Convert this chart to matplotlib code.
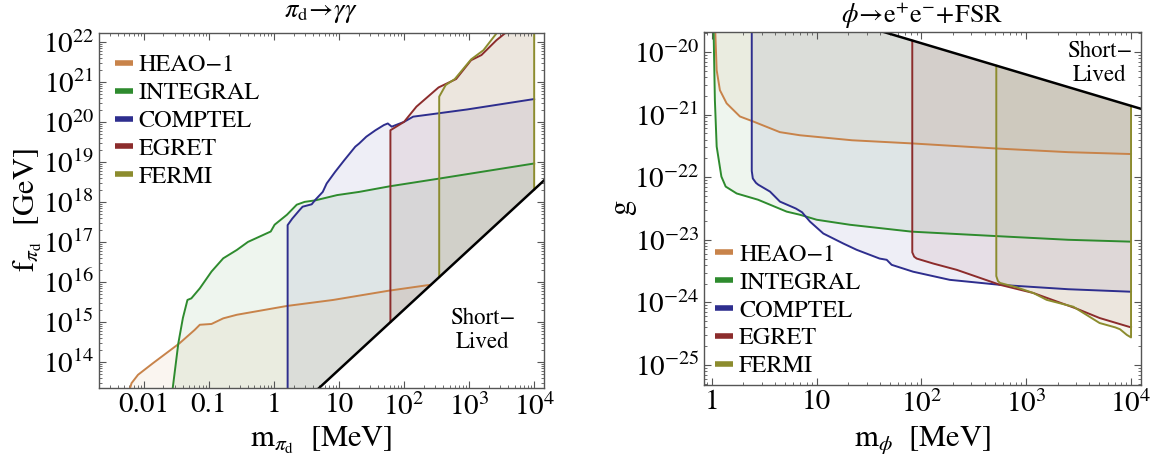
import numpy as np
import matplotlib.pyplot as plt
from matplotlib.lines import Line2D
from matplotlib.ticker import LogLocator, NullFormatter

plt.rcParams['font.family'] = 'STIXGeneral'
plt.rcParams['mathtext.fontset'] = 'stix'

names = ['HEAO\u22121', 'INTEGRAL', 'COMPTEL', 'EGRET', 'FERMI']
colors = ['#C8834A', '#2E8B2E', '#2E2E8E', '#8C2C2C', '#8C8C2E']

# ---- pi_d -> gamma gamma : log10(m / MeV) and log10(f / GeV) ----
pd_heao_m = [-2.22, -2.19, -2.09, -1.86, -1.45, -1.22, -1.14, -0.96, -0.78, -0.57, -0.22, 0.20, 0.91, 1.76, 2.41]
pd_heao_f = [13.30, 13.47, 13.68, 13.97, 14.47, 14.80, 14.93, 14.95, 15.09, 15.18, 15.28, 15.40, 15.55, 15.78, 15.93]

pd_integral_m = [-1.56, -1.47, -1.40, -1.33, -1.27, -1.14, -0.96, -0.78, -0.57, -0.40, -0.05, 0.01, 0.20,
                 0.35, 0.47, 0.64, 0.97, 1.31, 1.78, 2.53, 4.00]
pd_integral_f = [13.30, 14.47, 15.10, 15.55, 15.59, 15.84, 16.26, 16.59, 16.80, 17.00, 17.26, 17.43, 17.68,
                 17.93, 18.00, 18.04, 18.17, 18.25, 18.39, 18.58, 18.96]

pd_comptel_m = [0.21, 0.21, 0.28, 0.39, 0.44, 0.58, 0.64, 0.75, 0.81, 0.94, 1.08, 1.25, 1.31, 1.42, 1.56,
                1.69, 1.75, 1.81, 2.00, 2.14, 2.42, 2.97, 4.00]
pd_comptel_f = [13.30, 17.42, 17.58, 17.79, 17.88, 17.94, 18.06, 18.25, 18.46, 18.75, 19.04, 19.38, 19.46,
                19.63, 19.79, 19.92, 19.96, 19.88, 20.00, 20.13, 20.19, 20.31, 20.57]

pd_egret_m = [1.79, 1.79, 2.00, 2.19, 2.53, 2.80, 3.03, 3.19, 3.42, 3.58, 4.00]
pd_egret_f = [15.00, 19.79, 20.00, 20.38, 20.86, 21.07, 21.54, 21.67, 22.04, 22.25, 23.00]

pd_fermi_m = [2.54, 2.54, 2.64, 2.78, 3.03, 3.22, 3.42, 4.00, 4.00]
pd_fermi_f = [16.12, 20.63, 20.92, 21.07, 21.56, 21.79, 22.21, 23.00, 18.31]

# lifetime boundary
pd_short_m = [-3.0, 5.0]
pd_short_f = [7.81, 19.81]

# ---- phi -> e+ e- + FSR : log10(m / MeV) and log10(g) ----
phi_heao_m = [0.030, 0.045, 0.076, 0.14, 0.267, 0.394, 0.648, 0.84, 1.337, 1.906, 2.70, 3.40, 4.00]
phi_heao_g = [-19.60, -20.29, -20.61, -20.82, -21.03, -21.11, -21.28, -21.33, -21.41, -21.46, -21.54, -21.60, -21.63]

phi_integral_m = [0.015, 0.028, 0.045, 0.09, 0.131, 0.236, 0.44, 0.713, 0.84, 1.00, 1.317, 1.906, 2.70, 3.40, 4.00]
phi_integral_g = [-19.60, -20.77, -21.51, -21.99, -22.15, -22.26, -22.36, -22.55, -22.60, -22.68, -22.76,
                  -22.87, -22.94, -23.00, -23.03]

phi_comptel_m = [0.38, 0.38, 0.39, 0.42, 0.442, 0.554, 0.649, 0.80, 0.86, 0.89, 0.936, 1.063, 1.254, 1.381,
                 1.60, 1.668, 1.715, 1.92, 2.27, 2.75, 3.40, 4.00]
phi_comptel_g = [-19.60, -21.90, -22.02, -22.09, -22.12, -22.23, -22.39, -22.50, -22.56, -22.62, -22.71,
                 -22.90, -23.06, -23.16, -23.30, -23.32, -23.40, -23.51, -23.64, -23.72, -23.79, -23.83]

phi_egret_m = [1.912, 1.912, 1.93, 1.954, 2.113, 2.336, 2.75, 3.067, 3.48, 3.70, 4.00]
phi_egret_g = [-19.82, -23.20, -23.27, -23.30, -23.38, -23.48, -23.72, -23.85, -24.10, -24.25, -24.40]

phi_fermi_m = [2.714, 2.714, 2.73, 2.75, 2.909, 3.067, 3.195, 3.45, 3.70, 3.85, 3.895, 3.96, 4.00, 4.00]
phi_fermi_g = [-20.22, -23.58, -23.66, -23.69, -23.76, -23.85, -23.96, -24.07, -24.33, -24.40, -24.43,
               -24.52, -24.56, -20.86]

phi_short_m = [-1.0, 5.0]
phi_short_g = [-18.36, -21.36]

TICK_FS = 21


def draw_limits(ax, curves, short_m, short_v):
    short_m = np.array(short_m)
    short_v = np.array(short_v)
    for (lm, lv), c in zip(curves, colors):
        lm = np.array(lm)
        lv = np.array(lv)
        edge = np.interp(lm, short_m, short_v)
        ax.fill_between(10 ** lm, 10 ** lv, 10 ** edge, color=c, alpha=0.08, lw=0)
    for (lm, lv), c in zip(curves, colors):
        ax.plot(10 ** np.array(lm), 10 ** np.array(lv), color=c, lw=1.4)
    ax.plot(10 ** short_m, 10 ** short_v, color='k', lw=1.8)


def style_axes(ax):
    ax.set_xscale('log')
    ax.set_yscale('log')
    for sp in ax.spines.values():
        sp.set_color('#555555')
        sp.set_linewidth(1.0)
    ax.tick_params(which='both', direction='in', top=True, right=True, colors='#555555',
                   labelcolor='black', labelsize=TICK_FS)
    ax.tick_params(which='major', length=5, width=0.8)
    ax.tick_params(which='minor', length=2.5, width=0.6)
    ax.xaxis.set_minor_locator(LogLocator(base=10, subs=np.arange(2, 10), numticks=100))
    ax.yaxis.set_minor_locator(LogLocator(base=10, subs=np.arange(2, 10), numticks=100))
    ax.xaxis.set_minor_formatter(NullFormatter())
    ax.yaxis.set_minor_formatter(NullFormatter())


def add_legend(ax, **kw):
    handles = [Line2D([], [], color=c, lw=4, solid_capstyle='butt') for c in colors]
    ax.legend(handles, names, frameon=False, fontsize=17.5, handlelength=0.75, handletextpad=0.25,
              labelspacing=0.24, borderaxespad=0, borderpad=0, **kw)


fig = plt.figure(figsize=(11.7, 4.63), dpi=100)
ax1 = fig.add_axes([0.0846, 0.162, 0.3803, 0.7667])
ax2 = fig.add_axes([0.6017, 0.1685, 0.3735, 0.7624])

# left panel
style_axes(ax1)
draw_limits(ax1, [(pd_heao_m, pd_heao_f), (pd_integral_m, pd_integral_f), (pd_comptel_m, pd_comptel_f),
                  (pd_egret_m, pd_egret_f), (pd_fermi_m, pd_fermi_f)], pd_short_m, pd_short_f)
ax1.set_xlim(10 ** -2.69, 10 ** 4.15)
ax1.set_ylim(10 ** 13.35, 10 ** 22.22)
ax1.set_xticks([0.01, 0.1, 1, 10, 1e2, 1e3, 1e4],
               ['0.01', '0.1', '1', '10', r'$10^{2}$', r'$10^{3}$', r'$10^{4}$'], fontsize=TICK_FS)
ax1.set_yticks([10.0 ** n for n in range(14, 23)], [r'$10^{%d}$' % n for n in range(14, 23)],
               fontsize=TICK_FS)
ax1.text(10 ** 3.2, 10 ** 14.8, 'Short\u2212\nLived', ha='center', va='center', fontsize=16.5,
         linespacing=1.15)
add_legend(ax1, loc='upper left', bbox_to_anchor=(0.035, 0.94))

# right panel
style_axes(ax2)
draw_limits(ax2, [(phi_heao_m, phi_heao_g), (phi_integral_m, phi_integral_g), (phi_comptel_m, phi_comptel_g),
                  (phi_egret_m, phi_egret_g), (phi_fermi_m, phi_fermi_g)], phi_short_m, phi_short_g)
ax2.set_xlim(10 ** -0.076, 10 ** 4.095)
ax2.set_ylim(10 ** -25.32, 10 ** -19.68)
ax2.set_xticks([1, 10, 1e2, 1e3, 1e4], ['1', '10', r'$10^{2}$', r'$10^{3}$', r'$10^{4}$'], fontsize=TICK_FS)
ax2.set_yticks([10.0 ** -n for n in range(20, 26)], [r'$10^{-%d}$' % n for n in range(20, 26)],
               fontsize=TICK_FS)
ax2.text(10 ** 3.70, 10 ** -20.18, 'Short\u2212\nLived', ha='center', va='center', fontsize=16.5,
         linespacing=1.15)
add_legend(ax2, loc='lower left', bbox_to_anchor=(0.025, 0.022))

# titles and axis labels
fig.text(321 / 1170, 1 - 13 / 463, r'$\pi_{\mathrm{d}}\!\rightarrow\!\gamma\gamma$', ha='center', va='center',
         fontsize=19)
fig.text(922 / 1170, 1 - 16 / 463, r'$\phi\!\rightarrow\!\mathrm{e}^{+}\mathrm{e}^{-}\!+\!\mathrm{FSR}$',
         ha='center', va='center', fontsize=19)
fig.text(321 / 1170, 1 - 440 / 463, r'$\mathrm{m}_{\pi_{\mathrm{d}}}$  [MeV]', ha='center', va='center',
         fontsize=22)
fig.text(922 / 1170, 1 - 440 / 463, r'$\mathrm{m}_{\phi}$  [MeV]', ha='center', va='center', fontsize=22)
fig.text(28 / 1170, 1 - 210 / 463, r'$\mathrm{f}_{\pi_{\mathrm{d}}}$  [GeV]', ha='center', va='center',
         rotation=90, fontsize=22)
fig.text(622 / 1170, 1 - 207 / 463, 'g', ha='center', va='center', rotation=90, fontsize=22)

fig.savefig('out.png', dpi=100)
